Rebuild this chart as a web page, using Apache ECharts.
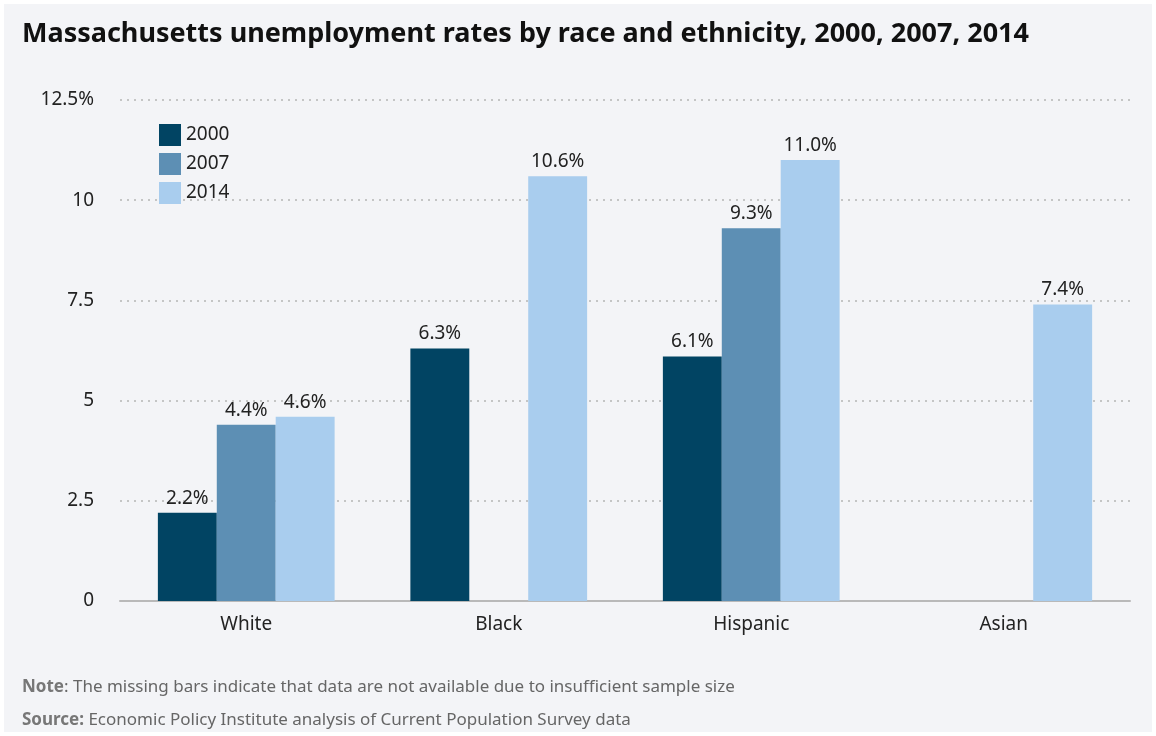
<!DOCTYPE html>
<html>
<head>
<meta charset="utf-8">
<script src="https://cdn.jsdelivr.net/npm/echarts@6/dist/echarts.min.js"></script>
<style>
  html, body { margin: 0; padding: 0; background: #ffffff; }
  #chart { position: absolute; left: 4px; top: 4px; width: 1148px; height: 728px; background: #f3f4f7; }
</style>
</head>
<body>
<div id="chart"></div>
<script>
// chart data
const categories = ["White", "Black", "Hispanic", "Asian"];
const years = ["2000", "2007", "2014"];
const rates2000 = [2.2, 6.3, 6.1, null];
const rates2007 = [4.4, null, 9.3, null];
const rates2014 = [4.6, 10.6, 11.0, 7.4];
const yTicks = ["0", "2.5", "5", "7.5", "10", "12.5%"];

const colors = ["#014463", "#5d8fb4", "#a9cdee"];
const font = "Noto Sans";

const chart = echarts.init(document.getElementById("chart"));

function barSeries(name, data, color) {
  return {
    name: name,
    type: "bar",
    data: data,
    barGap: "0%",
    barCategoryGap: "30%",
    itemStyle: { color: color },
    label: {
      show: true,
      position: "top",
      distance: 5,
      color: "#222",
      fontFamily: font,
      fontSize: 19,
      formatter: (p) => p.value.toFixed(1) + "%",
    },
  };
}

const option = {
  backgroundColor: "#f3f4f7",
  textStyle: { fontFamily: font },
  title: [
    {
      text: "Massachusetts unemployment rates by race and ethnicity, 2000, 2007, 2014",
      left: 13,
      top: 12,
      textStyle: { fontFamily: font, fontSize: 27, fontWeight: "bold", color: "#111" },
    },
    {
      text: "{b|Note}: The missing bars indicate that data are not available due to insufficient sample size",
      left: 13,
      top: 670,
      textStyle: {
        fontFamily: font, fontSize: 17, color: "#666", fontWeight: "normal",
        rich: { b: { fontFamily: font, fontSize: 17, color: "#777", fontWeight: "bold" } },
      },
    },
    {
      text: "{b|Source:} Economic Policy Institute analysis of Current Population Survey data",
      left: 13,
      top: 703,
      textStyle: {
        fontFamily: font, fontSize: 17, color: "#666", fontWeight: "normal",
        rich: { b: { fontFamily: font, fontSize: 17, color: "#777", fontWeight: "bold" } },
      },
    },
  ],
  legend: {
    data: years,
    orient: "vertical",
    left: 150,
    top: 115,
    itemWidth: 22,
    itemHeight: 22,
    itemGap: 7,
    icon: "rect",
    textStyle: { fontFamily: font, fontSize: 19, color: "#222" },
  },
  grid: { left: 116, right: 22, top: 96, bottom: 131 },
  xAxis: {
    type: "category",
    data: categories,
    axisLine: { lineStyle: { color: "#b9b9b9", width: 2 } },
    axisTick: { show: false },
    axisLabel: { color: "#222", fontFamily: font, fontSize: 19, margin: 14 },
  },
  yAxis: {
    type: "value",
    min: 0,
    max: 12.5,
    interval: 2.5,
    axisLine: { show: false },
    axisTick: { show: false },
    axisLabel: {
      color: "#222",
      fontFamily: font,
      fontSize: 19,
      margin: 26,
      formatter: (v) => yTicks[Math.round(v / 2.5)],
    },
    splitLine: { lineStyle: { color: "#b5b5b5", type: [2, 5], width: 1.5 } },
  },
  series: [
    barSeries(years[0], rates2000, colors[0]),
    barSeries(years[1], rates2007, colors[1]),
    barSeries(years[2], rates2014, colors[2]),
  ],
};

chart.setOption(option);
window.onresize = function () {
  chart.resize();
};
</script>
</body>
</html>
